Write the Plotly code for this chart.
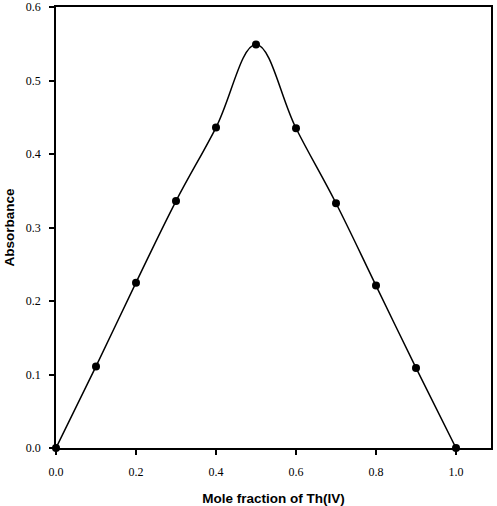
import plotly.graph_objects as go

mole_fraction = [0.0, 0.1, 0.2, 0.3, 0.4, 0.5, 0.6, 0.7, 0.8, 0.9, 1.0]
absorbance = [0.0, 0.111, 0.225, 0.336, 0.436, 0.549, 0.435, 0.333, 0.221, 0.109, 0.0]

x_ticks = [0.0, 0.2, 0.4, 0.6, 0.8, 1.0]
y_ticks = [0.0, 0.1, 0.2, 0.3, 0.4, 0.5, 0.6]

fig = go.Figure()

fig.add_trace(go.Scatter(
    x=mole_fraction,
    y=absorbance,
    mode='lines+markers',
    line=dict(color='black', width=1.5, shape='spline', smoothing=1.1),
    marker=dict(color='black', size=8),
    cliponaxis=False,
    showlegend=False
))

tick_font = dict(family='Liberation Serif, Times New Roman, serif', size=12, color='black')
title_font = dict(family='Liberation Sans, Arial, sans-serif', size=13.5, color='black')

fig.update_layout(
    width=497,
    height=506,
    margin=dict(l=56, r=6, t=7, b=58),
    paper_bgcolor='white',
    plot_bgcolor='white',
    xaxis=dict(
        range=[0, 1.0875],
        tickvals=x_ticks,
        ticktext=[f'{v:.1f}' for v in x_ticks],
        ticks='outside', ticklen=5, tickwidth=1.5, tickcolor='black',
        showline=True, linecolor='black', linewidth=1.5, mirror=True,
        showgrid=False, zeroline=False,
        tickfont=tick_font,
        ticklabelstandoff=7,
        ticklabeloverflow='allow',
        automargin=False,
        title=dict(text='<b>Mole fraction of Th(IV)</b>', font=title_font, standoff=18),
    ),
    yaxis=dict(
        range=[0, 0.6],
        tickvals=y_ticks,
        ticktext=[f'{v:.1f}' for v in y_ticks],
        ticks='outside', ticklen=5, tickwidth=1.5, tickcolor='black',
        showline=True, linecolor='black', linewidth=1.5, mirror=True,
        showgrid=False, zeroline=False,
        tickfont=tick_font,
        ticklabelstandoff=6,
        ticklabeloverflow='allow',
        automargin=False,
        title=dict(text='<b>Absorbance</b>', font=title_font, standoff=8),
    ),
)

# drop the page's default body margin so the figure sits at the window corner
fig.write_html("out.html", config={'displayModeBar': False},
               post_script="document.body.style.margin='0';")
